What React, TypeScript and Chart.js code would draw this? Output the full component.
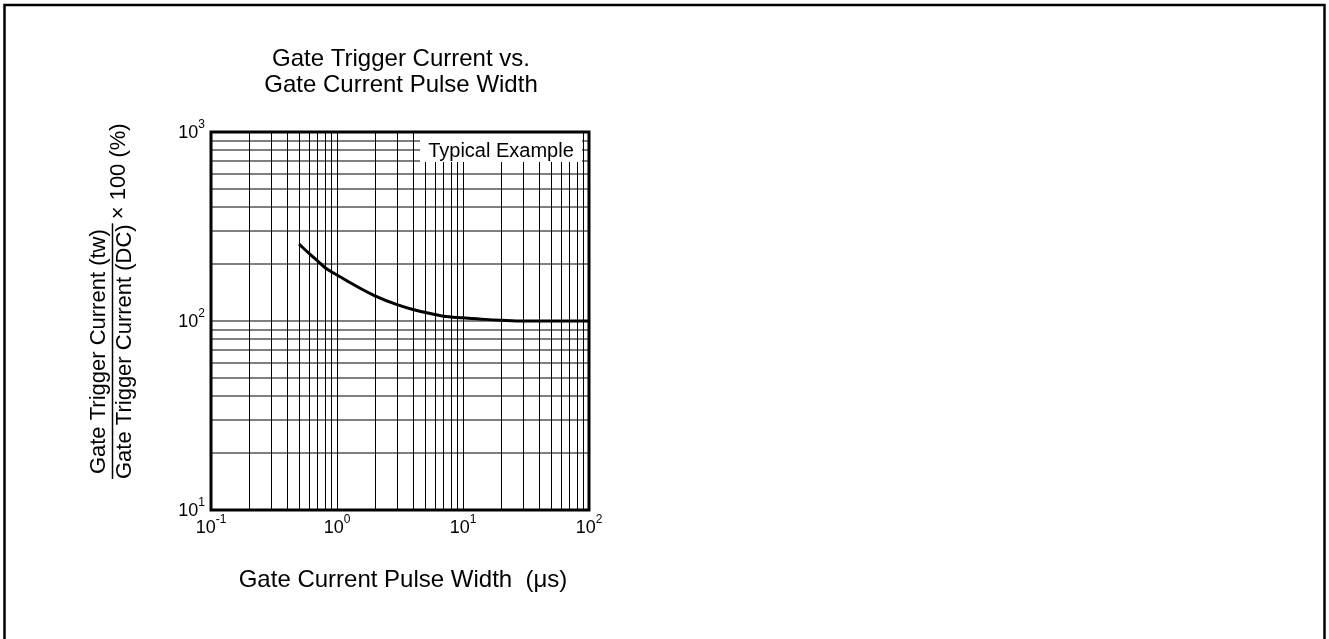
import { useEffect, useRef } from 'react';
import { Chart, registerables } from 'chart.js';

Chart.register(...registerables);

// ---- data ----
const pulseWidthUs = [0.5, 0.6, 0.7, 0.8, 1, 1.5, 2, 3, 4, 5, 7, 10, 15, 20, 30, 50, 100];
const currentRatioPct = [255, 228, 208, 192, 175, 150, 136, 122, 115, 111, 106, 104, 102, 101, 100, 100, 100];

const xGridValues = [
  0.1, 0.2, 0.3, 0.4, 0.5, 0.6, 0.7, 0.8, 0.9,
  1, 2, 3, 4, 5, 6, 7, 8, 9,
  10, 20, 30, 40, 50, 60, 70, 80, 90, 100,
];
const yGridValues = [
  10, 20, 30, 40, 50, 60, 70, 80, 90,
  100, 200, 300, 400, 500, 600, 700, 800, 900, 1000,
];

const xTickValues = [0.1, 1, 10, 100];
const xTickExponents = ['-1', '0', '1', '2'];
const yTickValues = [10, 100, 1000];
const yTickExponents = ['1', '2', '3'];
const tickBase = '10';

const titleLines = ['Gate Trigger Current vs.', 'Gate Current Pulse Width'];
const xAxisTitle = 'Gate Current Pulse Width  (\u03BCs)';
const yAxisNumerator = 'Gate Trigger Current (tw)';
const yAxisDenominator = 'Gate Trigger Current (DC)';
const yAxisSuffix = '\u00D7 100 (%)';
const annotationText = 'Typical Example';

const FONT = '"Liberation Sans", Arial, Helvetica, sans-serif';

function drawPower(
  ctx: CanvasRenderingContext2D,
  base: string,
  exp: string,
  x: number,
  baseline: number,
  align: 'center' | 'right',
  raise: number
) {
  ctx.font = `18px ${FONT}`;
  const wb = ctx.measureText(base).width;
  ctx.font = `12px ${FONT}`;
  const we = ctx.measureText(exp).width;
  const total = wb + we;
  const left = align === 'center' ? x - total / 2 : x - total;
  ctx.textAlign = 'left';
  ctx.textBaseline = 'alphabetic';
  ctx.font = `18px ${FONT}`;
  ctx.fillText(base, left, baseline);
  ctx.font = `12px ${FONT}`;
  ctx.fillText(exp, left + wb, baseline - raise);
}

const decorPlugin = {
  id: 'decor',
  beforeDatasetsDraw(chart: any) {
    const { ctx, chartArea, scales } = chart;
    const { left, right, top, bottom } = chartArea;
    const xs = scales.x;
    const ys = scales.y;
    ctx.save();
    // horizontal grid
    ctx.strokeStyle = '#808080';
    ctx.lineWidth = 2;
    for (const v of yGridValues) {
      const py = Math.round(ys.getPixelForValue(v));
      ctx.beginPath();
      ctx.moveTo(left, py);
      ctx.lineTo(right, py);
      ctx.stroke();
    }
    // vertical grid
    ctx.strokeStyle = '#000';
    ctx.lineWidth = 1;
    for (const v of xGridValues) {
      const px = Math.round(xs.getPixelForValue(v)) + 0.5;
      ctx.beginPath();
      ctx.moveTo(px, top);
      ctx.lineTo(px, bottom);
      ctx.stroke();
    }
    // annotation box
    const boxLeft = right - 169;
    const boxRight = right - 7;
    ctx.fillStyle = '#fff';
    ctx.fillRect(boxLeft, top + 1, boxRight - boxLeft, 29);
    ctx.fillStyle = '#000';
    ctx.font = `20px ${FONT}`;
    ctx.textAlign = 'center';
    ctx.textBaseline = 'alphabetic';
    ctx.fillText(annotationText, (boxLeft + boxRight) / 2, top + 25);
    ctx.restore();
  },
  afterDraw(chart: any) {
    const { ctx, chartArea, scales } = chart;
    const { left, right, top, bottom } = chartArea;
    const xs = scales.x;
    const ys = scales.y;
    ctx.save();
    // plot frame
    ctx.strokeStyle = '#000';
    ctx.lineWidth = 3;
    ctx.strokeRect(left, top, right - left, bottom - top);

    ctx.fillStyle = '#000';
    // x tick labels
    xTickValues.forEach((v, i) => {
      drawPower(ctx, tickBase, xTickExponents[i], xs.getPixelForValue(v), bottom + 23, 'center', 10);
    });
    // y tick labels
    yTickValues.forEach((v, i) => {
      drawPower(ctx, tickBase, yTickExponents[i], left - 6, ys.getPixelForValue(v) + 6, 'right', 10);
    });

    const cx = (left + right) / 2 + 1;
    // title
    ctx.font = `24px ${FONT}`;
    ctx.textAlign = 'center';
    ctx.textBaseline = 'alphabetic';
    ctx.fillText(titleLines[0], cx, 66);
    ctx.fillText(titleLines[1], cx, 92);

    // x axis title
    ctx.fillText(xAxisTitle, cx + 2, bottom + 77);

    // y axis title (fraction)
    ctx.save();
    ctx.translate(112.5, 479);
    ctx.rotate(-Math.PI / 2);
    ctx.font = `22px ${FONT}`;
    const wNum = ctx.measureText(yAxisNumerator).width;
    const wDen = ctx.measureText(yAxisDenominator).width;
    const wf = Math.max(wNum, wDen);
    ctx.textAlign = 'center';
    ctx.fillText(yAxisNumerator, wf / 2, -8);
    ctx.fillText(yAxisDenominator, wf / 2, 18.5);
    ctx.lineWidth = 1.5;
    ctx.beginPath();
    ctx.moveTo(0, 0);
    ctx.lineTo(wf + 1, 0);
    ctx.stroke();
    ctx.textAlign = 'left';
    ctx.fillText(yAxisSuffix, wf + 5, 12.5);
    ctx.restore();

    // outer frame
    ctx.lineWidth = 2.5;
    ctx.strokeRect(4.5, 5, 1320, 700);
    ctx.restore();
  },
};

export default function App() {
  const canvasRef = useRef<HTMLCanvasElement | null>(null);

  useEffect(() => {
    document.body.style.margin = '0';
    document.body.style.overflow = 'hidden';
    const canvas = canvasRef.current;
    if (!canvas) return;
    const chart = new Chart(canvas, {
      type: 'line',
      data: {
        datasets: [
          {
            data: pulseWidthUs.map((x, i) => ({ x, y: currentRatioPct[i] })),
            borderColor: '#000',
            borderWidth: 3,
            pointRadius: 0,
            fill: false,
            tension: 0.4,
            cubicInterpolationMode: 'monotone',
          },
        ],
      },
      options: {
        animation: false,
        responsive: false,
        devicePixelRatio: 1,
        events: [],
        layout: { padding: { left: 211, top: 132, right: 740, bottom: 129 } },
        plugins: { legend: { display: false }, tooltip: { enabled: false }, title: { display: false } },
        scales: {
          x: { type: 'logarithmic', min: 0.1, max: 100, display: false },
          y: { type: 'logarithmic', min: 10, max: 1000, display: false },
        },
      },
      plugins: [decorPlugin],
    } as any);
    return () => chart.destroy();
  }, []);

  return (
    <div style={{ width: 1329, height: 639, background: '#fff' }}>
      <canvas ref={canvasRef} width={1329} height={639} style={{ display: 'block' }} />
    </div>
  );
}
